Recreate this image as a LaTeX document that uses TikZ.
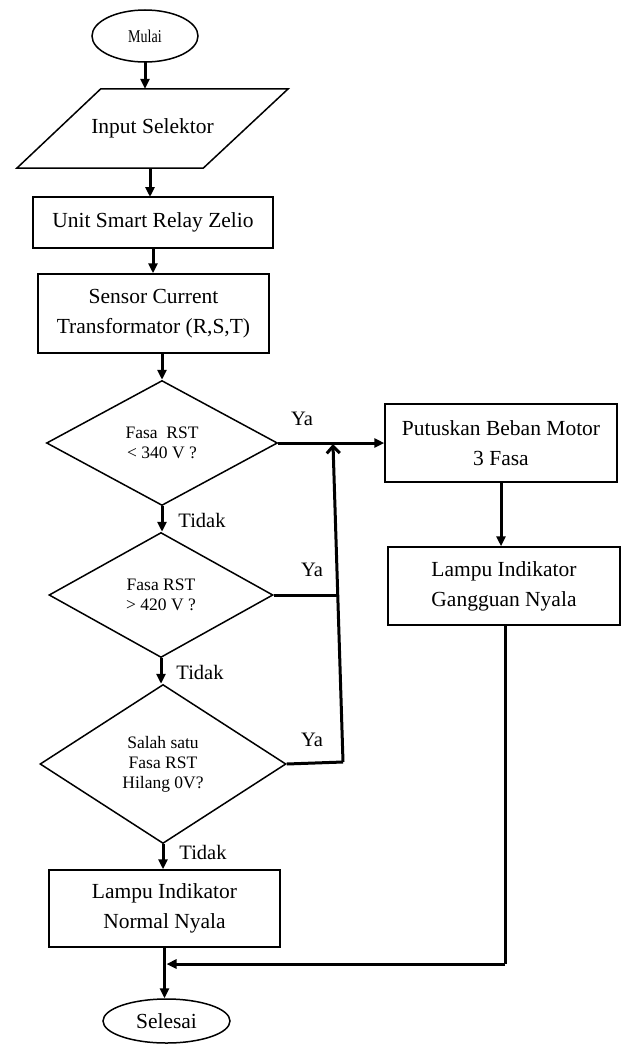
\documentclass[tikz,border=0pt]{standalone}
\usepackage{fontspec}
\usepackage{graphicx}
\setmainfont{Liberation Serif}
\usetikzlibrary{shapes.geometric,arrows.meta}
\begin{document}
\begin{tikzpicture}[x=1pt,y=-1pt,
  box/.style={draw,line width=1.5pt,rectangle,inner sep=0pt,align=center,font=\fontsize{21.5}{30}\selectfont},
  term/.style={draw,line width=1.5pt,ellipse,inner sep=0pt},
  dec/.style={draw,line width=1.5pt,diamond,inner sep=0pt,align=center,font=\fontsize{17.5}{20}\selectfont},
  conn/.style={line width=3pt,-{Triangle[length=10pt,width=9pt]}},
  barb/.style={line width=3pt,-{Straight Barb[length=7pt,width=13pt,line width=3pt]}},
  plain/.style={line width=3pt},
  lbl/.style={font=\fontsize{20.5}{24}\selectfont,inner sep=0pt}]
\useasboundingbox (0,0) rectangle (622,1044);
\fill[white] (0,0) rectangle (622,1044);
% start
\node[term,minimum width=106pt,minimum height=52pt,font=\fontsize{18}{20}\selectfont] (mulai) at (145,36) {\scalebox{0.78}[1]{Mulai}};
% input parallelogram
\node[rectangle,inner sep=0pt,minimum width=271pt,minimum height=79pt,font=\fontsize{21.5}{30}\selectfont] (in) at (152.5,128.5) {Input Selektor};
\draw[line width=1.5pt,line join=miter] (in.south west) -- ([xshift=84pt]in.north west) -- (in.north east) -- ([xshift=-85pt]in.south east) -- cycle;
\node[box,minimum width=240pt,minimum height=51pt] (unit) at (153,222.5) {Unit Smart Relay Zelio};
\node[box,minimum width=231pt,minimum height=79pt] (sensor) at (153.5,313.5) {Sensor Current\\Transformator (R,S,T)};
\node[dec,minimum width=231pt,minimum height=125pt] (d1) at (162,443) {Fasa~ RST\\{<} 340 V ?};
\node[dec,minimum width=224pt,minimum height=125pt] (d2) at (161,595) {Fasa RST\\{>} 420 V ?};
\node[dec,minimum width=246pt,minimum height=159pt] (d3) at (163,764) {Salah satu\\Fasa RST\\Hilang 0V?};
\node[box,minimum width=231pt,minimum height=77pt] (normal) at (164.5,908.5) {Lampu Indikator\\Normal Nyala};
\node[term,minimum width=127pt,minimum height=44pt,font=\fontsize{21.5}{26}\selectfont] (selesai) at (166.5,1021) {Selesai};
\node[box,minimum width=232pt,minimum height=78pt] (put) at (501,443) {Putuskan Beban Motor\\3 Fasa};
\node[box,minimum width=232pt,minimum height=78pt] (gang) at (504,586) {Lampu Indikator\\Gangguan Nyala};
% labels
\node[lbl] (ya1) at (302,419) {Ya};
\node[lbl] (ya2) at (312,570) {Ya};
\node[lbl] (ya3) at (312,740) {Ya};
\node[lbl] (t1) at (202,520) {Tidak};
\node[lbl] (t2) at (200,672) {Tidak};
\node[lbl] (t3) at (203,852) {Tidak};
% junction coordinates
\coordinate (jt) at (333,444);
\coordinate (jm) at (338,595);
\coordinate (jb) at (343,762);
\coordinate (rc) at (505,964);
\coordinate (rend) at (166.5,964);
% connectors
\draw[conn] (mulai.south |- 0,62) -- (mulai.south |- in.north);
\draw[conn] (150,168) -- (150,197);
\draw[conn] (unit.south) -- (unit.south |- sensor.north);
\draw[conn] (d1.north |- sensor.south) -- (d1.north);
\draw[conn] (d1.south) -- (d1.south |- d2.north);
\draw[conn] (d2.south) -- (d2.south |- d3.north);
\draw[conn] (d3.south) -- (d3.south |- normal.north);
\draw[conn] (normal.south) -- (normal.south |- selesai.north);
\draw[conn] (d1.east) -- (put.west);
\draw[plain] (d2.east) -- (jm);
\draw[plain,line join=miter] (d3.east) -- (jb);
\draw[barb] (jb) -- (jt);
\draw[conn] (put.south) -- (put.south |- gang.north);
\draw[plain] (gang.south -| rc) -- (rc);
\draw[conn] (rc) -- (rend);
\end{tikzpicture}
\end{document}
